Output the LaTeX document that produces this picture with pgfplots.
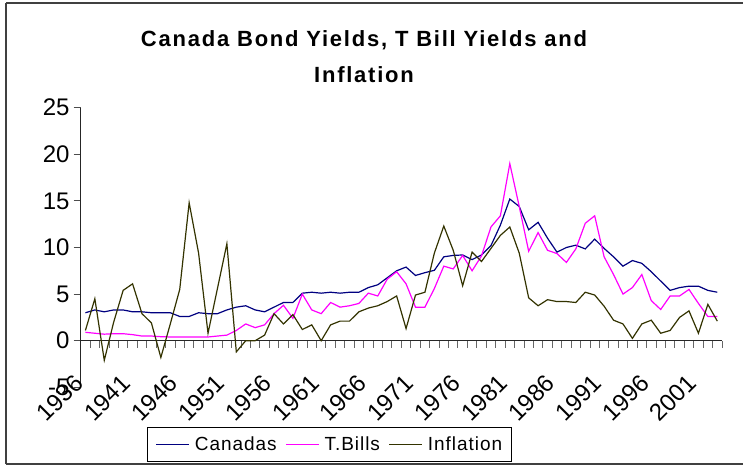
\documentclass[border=0pt]{standalone}
\usepackage{pgfplots}
\pgfplotsset{compat=1.18}
\usepackage{pgfplotstable}
\usepackage{fontspec}
\setmainfont{Liberation Sans}
\newfontfamily\titlefont[LetterSpace=8]{Liberation Sans}
\newfontfamily\legfont[LetterSpace=5]{Liberation Sans}
\definecolor{cnavy}{RGB}{0,0,128}
\definecolor{cmag}{RGB}{255,0,255}
\definecolor{colive}{RGB}{51,51,0}
\pgfplotstableread{
i can tb inf
0 3.0 0.9 1.1
1 3.3 0.8 4.5
2 3.1 0.7 -2.1
3 3.3 0.75 2.0
4 3.3 0.75 5.4
5 3.1 0.65 6.1
6 3.1 0.5 2.9
7 3.0 0.5 1.9
8 3.0 0.43 -1.8
9 3.0 0.4 1.8
10 2.6 0.4 5.5
11 2.6 0.4 14.8
12 3.0 0.4 9.4
13 2.9 0.4 0.8
14 2.9 0.5 5.6
15 3.3 0.6 10.4
16 3.6 1.1 -1.2
17 3.75 1.8 0.0
18 3.3 1.4 0.0
19 3.1 1.7 0.6
20 3.6 2.9 2.9
21 4.1 3.8 1.8
22 4.1 2.4 2.8
23 5.1 5.0 1.2
24 5.2 3.3 1.7
25 5.1 2.9 0.0
26 5.2 4.1 1.7
27 5.1 3.6 2.1
28 5.2 3.75 2.1
29 5.2 4.0 3.1
30 5.7 5.1 3.5
31 6.0 4.8 3.75
32 6.75 6.6 4.2
33 7.5 7.4 4.8
34 7.9 6.1 1.3
35 7.0 3.6 4.9
36 7.3 3.6 5.2
37 7.55 5.6 9.4
38 9.0 8.0 12.3
39 9.15 7.7 9.7
40 9.2 9.15 5.9
41 8.7 7.5 9.5
42 9.2 9.1 8.5
43 10.2 12.2 9.9
44 12.4 13.4 11.3
45 15.2 19.0 12.2
46 14.4 14.4 9.4
47 11.9 9.6 4.6
48 12.7 11.6 3.75
49 11.0 9.7 4.4
50 9.5 9.35 4.2
51 10.0 8.4 4.2
52 10.25 9.85 4.1
53 9.85 12.6 5.2
54 10.9 13.4 4.9
55 9.9 9.0 3.7
56 9.0 7.1 2.2
57 8.0 5.0 1.8
58 8.6 5.7 0.25
59 8.3 7.1 1.8
60 7.4 4.3 2.2
61 6.4 3.35 0.8
62 5.4 4.8 1.1
63 5.7 4.8 2.5
64 5.85 5.5 3.2
65 5.85 4.0 0.8
66 5.4 2.6 3.9
67 5.2 2.6 2.1
}\data
\begin{document}
\begin{tikzpicture}
\useasboundingbox (0,0) rectangle (743pt,466pt);
\draw[black!75, line width=1.2pt] (6pt,2pt) -- (6pt,463pt);
\draw[black!75, line width=1.2pt] (6pt,463pt) -- (743pt,463pt);
\draw[black!75, line width=1.2pt] (6pt,2pt) -- (743pt,2pt);
\begin{axis}[
  at={(80.7pt,78.7pt)}, anchor=south west,
  scale only axis, width=641.3pt, height=279.6pt,
  xmin=-0.5, xmax=67.5, ymin=-5, ymax=25,
  axis x line*=middle, axis y line*=left,
  axis line style={black!85, line width=1pt},
  xtick={0,5,...,65},
  xticklabels={1936,1941,1946,1951,1956,1961,1966,1971,1976,1981,1986,1991,1996,2001},
  minor xtick={-0.5,0.5,...,67.5},
  ytick={-5,0,...,25},
  major x tick style={draw=none},
  minor x tick style={black!60, line width=0.9pt},
  major y tick style={black!70, line width=0.9pt},
  major tick length=7pt, minor tick length=7pt,
  tick align=outside,
  /pgf/number format/assume math mode=true,
  ticklabel style={font=\fontsize{24}{28}\selectfont},
  yticklabel style={inner sep=0pt, xshift=-4pt},
  xticklabel shift=12.4pt,
  xticklabel style={inner sep=0pt, inner xsep=17.8pt, rotate=45, anchor=north east},
  legend style={at={(0.3872,-0.2046)}, anchor=center, legend columns=3,
    draw=black, line width=0.8pt, font=\legfont\fontsize{19}{22}\selectfont,
    inner xsep=9pt, inner ysep=9.5pt,
    nodes={inner sep=0pt},
    /tikz/every odd column/.append style={column sep=5pt},
    /tikz/every even column/.append style={column sep=9pt}},
  legend image code/.code={\draw[#1, line width=1pt] (0pt,0pt) -- (33pt,0pt);},
]
\addplot[cnavy, line width=1.2pt] table[x=i, y=can] {\data};
\addlegendentry{Canadas}
\addplot[cmag, line width=1.2pt] table[x=i, y=tb] {\data};
\addlegendentry{T.Bills}
\addplot[colive, line width=1.2pt] table[x=i, y=inf] {\data};
\addlegendentry{Inflation}
\end{axis}
\node[font=\titlefont\bfseries\fontsize{22}{26}\selectfont, anchor=base] at (364pt,419pt) {Canada Bond Yields, T Bill Yields and};
\node[font=\titlefont\bfseries\fontsize{22}{26}\selectfont, anchor=base] at (364pt,383pt) {Inflation};
\end{tikzpicture}
\end{document}
